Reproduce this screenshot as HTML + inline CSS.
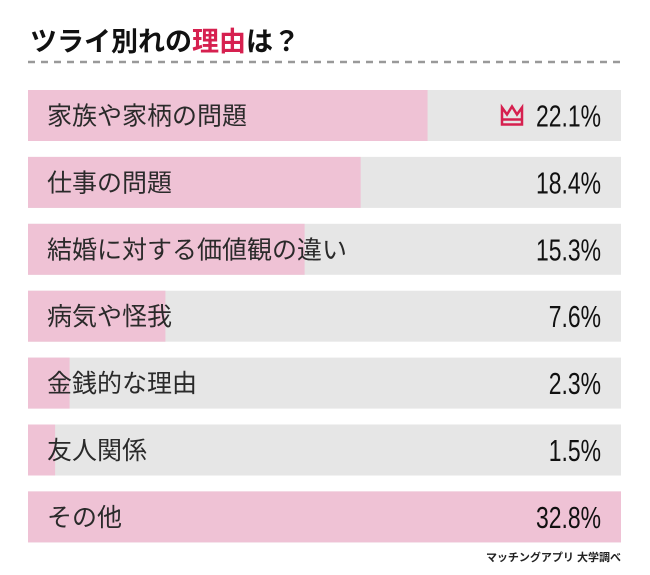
<!DOCTYPE html>
<html><head><meta charset="utf-8"><style>
body{margin:0;background:#fff;}
#c{position:relative;width:650px;height:575px;overflow:hidden;font-family:"Liberation Sans","Noto Sans CJK JP",sans-serif;}
</style></head><body>
<div id="c">
<svg width="650" height="575" id="svg">
<text x="30" y="51" font-size="27" font-weight="bold" fill="#111" font-family="Liberation Sans, Noto Sans CJK JP, sans-serif">ツライ別れの<tspan fill="#d6204f">理由</tspan>は？</text>
<line x1="28" y1="62" x2="621" y2="62" stroke="#999" stroke-width="2.5" stroke-dasharray="7,6"/>
<g id="bars"></g>
<text x="621" y="561" text-anchor="end" font-size="11" font-weight="bold" fill="#222" font-family="Liberation Sans, Noto Sans CJK JP, sans-serif">マッチングアプリ 大学調べ</text>
</svg>
</div>
<script>
const categories=["家族や家柄の問題","仕事の問題","結婚に対する価値観の違い","病気や怪我","金銭的な理由","友人関係","その他"];
const values=[22.1,18.4,15.3,7.6,2.3,1.5,32.8];
const valueLabels=["22.1%","18.4%","15.3%","7.6%","2.3%","1.5%","32.8%"];
const NS="http://www.w3.org/2000/svg";
const g=document.getElementById('bars');
const x0=28,x1=621,y0=90,step=66.9,bh=51;
const maxV=Math.max(...values);
const xs=v=>(x1-x0)*v/maxV;
const topIdx=values.slice(0,6).indexOf(Math.max(...values.slice(0,6)));
categories.forEach((c,i)=>{
  const y=y0+i*step;
  const bg=document.createElementNS(NS,'rect');
  bg.setAttribute('x',x0);bg.setAttribute('y',y);bg.setAttribute('width',x1-x0);bg.setAttribute('height',bh);bg.setAttribute('fill','#e6e6e6');
  
  
  g.appendChild(bg);
  const r=document.createElementNS(NS,'rect');
  r.setAttribute('x',x0);r.setAttribute('y',y);r.setAttribute('width',xs(values[i]));r.setAttribute('height',bh);r.setAttribute('fill','#efc2d5');
  
  
  g.appendChild(r);
  const t=document.createElementNS(NS,'text');
  t.setAttribute('x',47);t.setAttribute('y',y+bh/2+9);t.setAttribute('font-size','25');t.setAttribute('fill','#2a2a2a');
  t.setAttribute('font-family','Liberation Sans, Noto Sans CJK JP, sans-serif');
  t.textContent=c;
  
  
  g.appendChild(t);
  const v=document.createElementNS(NS,'text');
  v.setAttribute('x',0);v.setAttribute('y',0);v.setAttribute('font-size','31');v.setAttribute('text-anchor','end');v.setAttribute('fill','#111');
  v.setAttribute('transform',`translate(601,${y+bh/2+11}) scale(0.74,1)`);
  v.setAttribute('font-family','Liberation Sans, sans-serif');
  v.textContent=valueLabels[i];
  
  
  g.appendChild(v);
  if(i===topIdx){
    const p=document.createElementNS(NS,'path');
    const cx=512,cy=y+bh/2;
    p.setAttribute('d',`M${cx-10} ${cy-8} L${cx-5} ${cy-1} L${cx} ${cy-9} L${cx+5} ${cy-1} L${cx+10} ${cy-8} L${cx+10} ${cy+9} L${cx-10} ${cy+9} Z M${cx-10} ${cy+4} L${cx+10} ${cy+4}`);
    p.setAttribute('fill','none');p.setAttribute('stroke','#d6204f');p.setAttribute('stroke-width','2.5');
    
    
    g.appendChild(p);
  }
});
</script>
</body></html>
